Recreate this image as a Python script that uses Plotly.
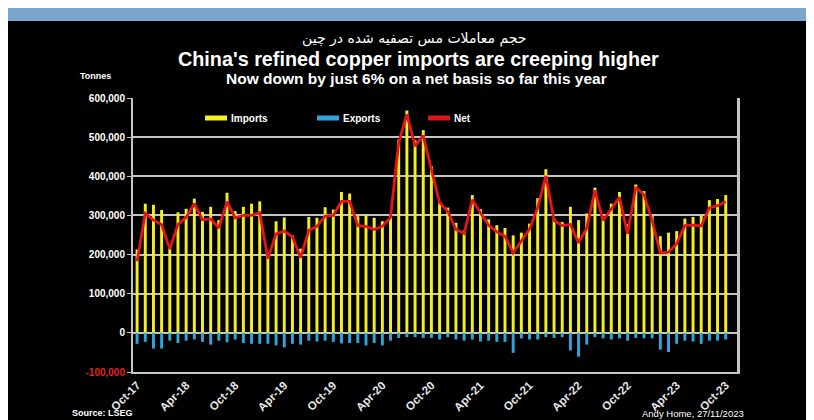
import plotly.graph_objects as go
import pandas as pd

# ---------------- data (tonnes, thousands) ----------------
months = [p.strftime("%b-%y") for p in pd.period_range("2017-10", "2023-10", freq="M")]

imports_k = [213, 330, 327, 314, 222, 308, 317, 343, 309, 322, 288, 358, 311, 322, 330, 336,
             205, 285, 295, 249, 215, 296, 294, 321, 315, 360, 356, 298, 300, 294, 285, 298,
             494, 568, 492, 518, 426, 334, 320, 281, 262, 352, 316, 290, 275, 268, 249, 256,
             279, 344, 418, 292, 283, 322, 288, 305, 371, 296, 330, 360, 278, 379, 362, 300,
             247, 256, 260, 292, 296, 300, 339, 342, 352]

exports_k = [28, 23, 40, 40, 20, 26, 20, 17, 23, 30, 20, 24, 17, 26, 28, 28,
             28, 32, 37, 28, 30, 20, 22, 20, 23, 27, 26, 26, 32, 26, 32, 20,
             13, 11, 11, 13, 13, 17, 11, 17, 20, 17, 22, 20, 23, 23, 51, 14,
             17, 17, 11, 13, 11, 45, 61, 30, 11, 14, 17, 14, 20, 13, 14, 14,
             43, 49, 28, 20, 22, 28, 20, 20, 17]

net_k = [183, 305, 288, 277, 214, 277, 295, 330, 289, 291, 268, 335, 294, 300, 300, 307,
         190, 253, 260, 245, 192, 262, 272, 298, 300, 336, 336, 274, 272, 264, 272, 295,
         486, 558, 477, 504, 417, 333, 310, 264, 254, 340, 307, 275, 258, 247, 204, 236,
         265, 320, 401, 287, 274, 277, 230, 268, 364, 287, 317, 346, 253, 372, 353, 287,
         204, 206, 228, 274, 275, 273, 319, 325, 335]

imports = [v * 1000 for v in imports_k]
exports = [-v * 1000 for v in exports_k]
net = [v * 1000 for v in net_k]

x_tick_labels = ["Oct-17", "Apr-18", "Oct-18", "Apr-19", "Oct-19", "Apr-20", "Oct-20",
                 "Apr-21", "Oct-21", "Apr-22", "Oct-22", "Apr-23", "Oct-23"]
y_tick_vals = [600000, 500000, 400000, 300000, 200000, 100000, 0, -100000]
y_tick_labels = ["600,000", "500,000", "400,000", "300,000", "200,000", "100,000", "0",
                 "<span style='color:#e3261c'>-100,000</span>"]

series_names = ["Imports", "Exports", "Net"]
series_colors = ["#f4ef1f", "#2ba6de", "#e3141c"]

title_fa = "حجم معاملات مس تصفیه شده در چین"
title_en = "China's refined copper imports are creeping higher"
subtitle = "Now down by just 6% on a net basis so far this year"

# ---------------- layout geometry ----------------
OFF = 8                       # page body margin (screen px)
W, H = 806, 412
L, R, T, B = 125, 76, 90, 48
PW, PH = W - L - R, H - T - B


def xp(px):                   # screen px -> paper x
    return (px - OFF - L) / PW


def yp(py):                   # screen px -> paper y
    return (H - B - (py - OFF)) / PH


FONT = "Liberation Sans, Arial, sans-serif"

fig = go.Figure()
fig.add_trace(go.Bar(x=months, y=imports, name=series_names[0], marker_color=series_colors[0],
                     marker_line_width=0, width=0.36, showlegend=False))
fig.add_trace(go.Bar(x=months, y=exports, name=series_names[1], marker_color=series_colors[1],
                     marker_line_width=0, width=0.36, showlegend=False))
fig.add_trace(go.Scatter(x=months, y=net, name=series_names[2], mode="lines",
                         line=dict(color=series_colors[2], width=2.8), showlegend=False))

shapes = [
    dict(type="rect", xref="paper", yref="paper", x0=xp(8), x1=xp(812), y0=yp(8), y1=yp(21),
         fillcolor="#7ba7cc", line_width=0, layer="below"),
]

# manual legend
leg_y = yp(118)
leg_x = [205, 317, 428]
annotations = []
for name, col, x0 in zip(series_names, series_colors, leg_x):
    shapes.append(dict(type="line", xref="paper", yref="paper", x0=xp(x0), x1=xp(x0 + 22),
                       y0=leg_y, y1=leg_y, line=dict(color=col, width=5)))
    annotations.append(dict(text="<b>%s</b>" % name, xref="paper", yref="paper",
                            x=xp(x0 + 24), y=leg_y, xanchor="left", yanchor="middle",
                            showarrow=False, font=dict(family=FONT, size=10, color="white")))

annotations += [
    dict(text=title_fa, xref="paper", yref="paper", x=xp(414), y=yp(38), xanchor="center",
         yanchor="middle", showarrow=False, font=dict(family="DejaVu Sans", size=14, color="white")),
    dict(text="<b>%s</b>" % title_en, xref="paper", yref="paper", x=xp(418), y=yp(59),
         xanchor="center", yanchor="middle", showarrow=False,
         font=dict(family=FONT, size=19.8, color="white")),
    dict(text="<b>%s</b>" % subtitle, xref="paper", yref="paper", x=xp(416), y=yp(78),
         xanchor="center", yanchor="middle", showarrow=False,
         font=dict(family=FONT, size=15.5, color="white")),
    dict(text="<b>Tonnes</b>", xref="paper", yref="paper", x=xp(95), y=yp(76),
         xanchor="center", yanchor="middle", showarrow=False,
         font=dict(family=FONT, size=9, color="white")),
    dict(text="<b>Source: LSEG</b>", xref="paper", yref="paper", x=xp(70), y=yp(413),
         xanchor="left", yanchor="middle", showarrow=False,
         font=dict(family=FONT, size=9, color="white")),
    dict(text="Andy Home, 27/11/2023", xref="paper", yref="paper", x=xp(746), y=yp(413),
         xanchor="right", yanchor="middle", showarrow=False,
         font=dict(family=FONT, size=9.5, color="white")),
]

fig.update_layout(
    width=W, height=H,
    margin=dict(l=L, r=R, t=T, b=B, pad=0, autoexpand=False),
    paper_bgcolor="black", plot_bgcolor="black",
    barmode="overlay",
    shapes=shapes, annotations=annotations,
    showlegend=False,
    font=dict(family=FONT, color="white"),
)
fig.update_xaxes(
    type="category", range=[-0.5, 73.5], automargin=False,
    tickmode="array", tickvals=x_tick_labels, ticktext=["<b>%s</b>" % t for t in x_tick_labels],
    tickangle=-45, tickfont=dict(family=FONT, size=11.5, color="#e6e6e6"),
    showgrid=False, showline=True, linecolor="#c4c4c4", linewidth=2, mirror=False,
    ticks="", zeroline=False,
)
fig.update_yaxes(
    range=[-100000, 600000], automargin=False, tickmode="array", tickvals=y_tick_vals,
    ticktext=["<b>%s</b>" % t for t in y_tick_labels],
    tickfont=dict(family=FONT, size=10, color="white"),
    showgrid=True, gridcolor="#c4c4c4", gridwidth=1.5,
    showline=True, linecolor="#c4c4c4", linewidth=2, mirror=True,
    ticks="outside", ticklen=4, tickcolor="#c4c4c4", zeroline=False,
)
fig.add_shape(type="line", xref="paper", yref="paper", x0=1, x1=1, y0=0, y1=1,
              line=dict(color="#c4c4c4", width=2))

fig.write_html("out.html")
